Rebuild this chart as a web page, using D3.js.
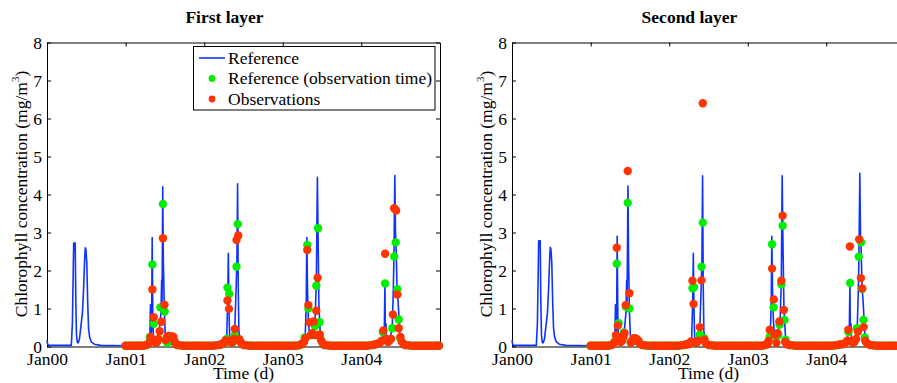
<!DOCTYPE html>
<html>
<head>
<meta charset="utf-8">
<script src="https://cdn.jsdelivr.net/npm/d3@7"></script>
<style>
  body { margin: 0; background: #fff; }
</style>
</head>
<body>
<svg id="chart" width="897" height="383"></svg>
<script>
// days are counted from Jan00, values in mg/m3
const panelTitles = ["First layer", "Second layer"];
const yearLabels = ["Jan00", "Jan01", "Jan02", "Jan03", "Jan04"];
const yTicks = [0, 1, 2, 3, 4, 5, 6, 7, 8];
const legendLabels = ["Reference", "Reference (observation time)", "Observations"];

// reference run, first layer
const refLine1 = [
  [0, 0.17], [3, 0.06], [8, 0.03], [113, 0.03], [118, 0.6], [122, 2.0], [124, 2.72], [131, 2.72], [134, 1.2], [137, 0.3], [141, 0.1],
  [145, 0.1], [151, 0.2], [157, 0.5], [160, 0.65], [165, 0.9], [170, 1.5], [175, 2.3], [178, 2.6], [181, 2.55], [185, 2.2], [189, 1.2],
  [193, 0.5], [198, 0.25], [206, 0.12], [220, 0.06], [250, 0.03], [365, 0.02],
  [470, 0.03], [478, 0.1], [481, 1.1], [483, 0.3], [486, 0.4], [489, 2.87], [492, 0.8], [495, 0.25], [505, 0.15], [520, 0.3],
  [530, 0.9], [533, 1.75], [535, 1.2], [538, 4.2], [541, 2.2], [546, 0.9], [550, 0.3], [560, 0.1], [580, 0.05], [600, 0.02],
  [825, 0.02], [835, 0.15], [840, 1.2], [843, 2.45], [846, 1.0], [849, 0.25], [860, 0.1], [872, 0.3], [879, 1.5], [883, 2.3],
  [886, 4.28], [889, 1.6], [892, 0.4], [900, 0.1], [920, 0.02],
  [1190, 0.02], [1200, 0.2], [1205, 1.1], [1208, 2.87], [1211, 1.5], [1215, 0.7], [1220, 0.3], [1238, 0.4], [1247, 0.8], [1252, 1.7],
  [1257, 4.45], [1260, 3.0], [1264, 1.1], [1268, 0.6], [1272, 0.2], [1285, 0.05], [1300, 0.02],
  [1550, 0.02], [1562, 0.3], [1568, 0.4], [1571, 1.66], [1573, 0.4], [1576, 0.6], [1578, 0.2], [1595, 0.2], [1605, 0.5], [1610, 1.5],
  [1613, 2.4], [1617, 4.5], [1620, 3.0], [1623, 2.6], [1627, 1.6], [1632, 1.2], [1637, 0.7], [1642, 0.2], [1655, 0.05], [1670, 0.02], [1826, 0.02]
];

// reference run, second layer
const refLine2 = [
  [0, 0.17], [3, 0.06], [8, 0.03], [113, 0.03], [118, 0.6], [122, 2.0], [124, 2.78], [131, 2.78], [134, 1.2], [137, 0.3], [141, 0.1],
  [145, 0.1], [151, 0.2], [157, 0.5], [160, 0.65], [165, 0.9], [170, 1.5], [175, 2.3], [178, 2.61], [181, 2.56], [185, 2.2], [189, 1.2],
  [193, 0.5], [198, 0.25], [206, 0.12], [220, 0.06], [250, 0.03], [365, 0.02],
  [470, 0.03], [478, 0.1], [481, 1.1], [483, 0.3], [486, 0.4], [489, 2.9], [492, 0.8], [495, 0.25], [505, 0.15], [520, 0.3],
  [530, 0.9], [533, 1.75], [535, 1.2], [539, 4.22], [542, 2.2], [546, 0.9], [550, 0.3], [560, 0.1], [580, 0.05], [600, 0.02],
  [825, 0.02], [835, 0.15], [840, 1.2], [843, 2.45], [846, 1.0], [849, 0.25], [860, 0.1], [872, 0.3], [879, 1.5], [883, 2.3],
  [886, 4.49], [889, 1.6], [892, 0.4], [900, 0.1], [920, 0.02],
  [1190, 0.02], [1200, 0.2], [1205, 1.1], [1208, 2.9], [1211, 1.5], [1215, 0.7], [1220, 0.3], [1238, 0.4], [1247, 0.8], [1252, 1.7],
  [1256, 4.49], [1259, 3.0], [1264, 1.1], [1268, 0.6], [1272, 0.2], [1285, 0.05], [1300, 0.02],
  [1550, 0.02], [1562, 0.3], [1568, 0.4], [1571, 1.67], [1573, 0.4], [1576, 0.6], [1578, 0.2], [1595, 0.2], [1605, 0.5], [1610, 1.5],
  [1613, 2.4], [1617, 4.56], [1620, 3.0], [1623, 2.6], [1627, 1.6], [1632, 1.2], [1637, 0.7], [1642, 0.2], [1655, 0.05], [1670, 0.02], [1826, 0.02]
];

// quiet periods, observations and reference nearly equal (both layers)
const lowBand = [
  [365, 0.02], [378, 0.02], [391, 0.02], [404, 0.02], [417, 0.02], [430, 0.02], [443, 0.02], [456, 0.03], [467, 0.05],
  [605, 0.04], [620, 0.03], [635, 0.02], [650, 0.02], [665, 0.02], [680, 0.02], [695, 0.02], [710, 0.02], [725, 0.02],
  [740, 0.02], [755, 0.02], [770, 0.02], [785, 0.03], [800, 0.04], [812, 0.06],
  [915, 0.04], [930, 0.03], [945, 0.02], [960, 0.02], [975, 0.02], [990, 0.02], [1005, 0.02], [1020, 0.02], [1035, 0.02],
  [1050, 0.02], [1065, 0.02], [1080, 0.02], [1095, 0.02], [1110, 0.02], [1125, 0.02], [1140, 0.02], [1155, 0.02], [1170, 0.03], [1182, 0.06],
  [1290, 0.04], [1305, 0.03], [1320, 0.02], [1335, 0.02], [1350, 0.02], [1365, 0.02], [1380, 0.02], [1395, 0.02], [1410, 0.02],
  [1425, 0.02], [1440, 0.02], [1455, 0.02], [1470, 0.02], [1485, 0.02], [1500, 0.03], [1515, 0.04], [1528, 0.06],
  [1665, 0.04], [1680, 0.03], [1695, 0.02], [1710, 0.02], [1725, 0.02], [1740, 0.02], [1755, 0.02], [1770, 0.02], [1785, 0.02],
  [1800, 0.02], [1812, 0.02], [1822, 0.02]
];

// reference at observation time / observations, first layer
const green1 = [
  [478, 0.25], [490, 2.16], [496, 0.6], [527, 1.03], [539, 3.75], [547, 0.92], [552, 0.15], [560, 0.1],
  [835, 0.2], [839, 1.55], [847, 1.38], [852, 0.12], [860, 0.1], [873, 0.3], [881, 2.1], [887, 3.22], [893, 0.15],
  [1198, 0.24], [1210, 2.67], [1215, 1.0], [1230, 0.3], [1246, 0.53], [1252, 1.6], [1260, 3.11], [1267, 0.64], [1272, 0.2],
  [1561, 0.38], [1572, 1.66], [1605, 0.48], [1614, 2.37], [1621, 2.74], [1629, 1.51], [1635, 0.71], [1643, 0.2]
];
const red1 = [
  [472, 0.08], [478, 0.12], [482, 0.25], [490, 1.5], [496, 0.77], [500, 0.15], [506, 0.1], [512, 0.12], [518, 0.2], [524, 0.4],
  [532, 0.65], [539, 2.85], [546, 1.1], [552, 0.17], [558, 0.25], [564, 0.28], [572, 0.27], [580, 0.26], [587, 0.26], [592, 0.15], [598, 0.08],
  [818, 0.08], [825, 0.1], [830, 0.16], [839, 1.21], [846, 0.99], [852, 0.15], [858, 0.1], [864, 0.12], [868, 0.2], [873, 0.46],
  [881, 2.8], [889, 2.92], [894, 0.19], [900, 0.12], [908, 0.06],
  [1188, 0.08], [1195, 0.12], [1202, 0.22], [1210, 2.54], [1215, 1.09], [1221, 0.64], [1226, 0.3], [1234, 0.35], [1240, 0.66],
  [1246, 0.3], [1252, 0.94], [1258, 1.81], [1263, 0.3], [1268, 0.32], [1275, 0.15], [1282, 0.08],
  [1540, 0.08], [1548, 0.1], [1556, 0.15], [1564, 0.42], [1572, 2.44], [1578, 0.2], [1585, 0.12], [1592, 0.15], [1600, 0.2],
  [1608, 0.84], [1614, 3.64], [1623, 3.58], [1629, 1.37], [1635, 0.48], [1643, 0.25], [1650, 0.12], [1658, 0.06]
];

// reference at observation time / observations, second layer
const green2 = [
  [480, 0.15], [487, 2.18], [489, 0.25], [496, 0.61], [520, 0.37], [529, 1.05], [538, 3.78], [546, 1.0], [552, 0.12],
  [833, 0.12], [839, 1.53], [846, 1.56], [852, 0.1], [873, 0.31], [881, 2.1], [887, 3.26], [893, 0.22],
  [1198, 0.26], [1209, 2.69], [1216, 1.03], [1222, 0.3], [1238, 0.3], [1244, 0.57], [1252, 1.64], [1258, 3.18], [1267, 0.7], [1272, 0.18],
  [1564, 0.38], [1572, 1.67], [1603, 0.48], [1612, 2.36], [1623, 2.74], [1628, 1.51], [1634, 0.7], [1640, 0.24]
];
const red2 = [
  [472, 0.08], [478, 0.12], [483, 0.3], [487, 2.6], [492, 0.55], [498, 0.2], [505, 0.12], [512, 0.15], [518, 0.25], [523, 0.35],
  [529, 1.09], [538, 4.62], [546, 1.4], [552, 0.1], [558, 0.15], [565, 0.22], [572, 0.22], [580, 0.2], [588, 0.15], [595, 0.07],
  [818, 0.06], [825, 0.08], [832, 0.13], [839, 1.73], [844, 1.12], [850, 0.12], [858, 0.1], [866, 0.15], [873, 0.51],
  [881, 1.74], [887, 6.4], [895, 0.18], [902, 0.08],
  [1188, 0.06], [1193, 0.15], [1198, 0.44], [1209, 2.05], [1217, 1.24], [1221, 0.32], [1229, 0.1], [1234, 0.35], [1243, 0.66],
  [1252, 1.73], [1258, 3.44], [1264, 0.96], [1270, 0.12], [1278, 0.06],
  [1540, 0.06], [1550, 0.1], [1558, 0.15], [1564, 0.44], [1571, 2.63], [1578, 0.15], [1585, 0.09], [1592, 0.12], [1600, 0.2],
  [1608, 0.39], [1614, 2.82], [1622, 1.8], [1628, 1.53], [1635, 0.51], [1642, 0.15], [1650, 0.08]
];

const BLUE = "#0f33ff", GREEN = "#00ee00", RED = "#ff3300";
const SERIF = '"Liberation Serif", "Times New Roman", serif';
const FS = 17.5;
const start = new Date(2000, 0, 1), end = new Date(2005, 0, 1);
const toDate = d => d3.timeDay.offset(start, d);

const svg = d3.select("#chart").style("font-family", SERIF);

const panels = [
  { title: panelTitles[0], left: 47, line: refLine1, green: green1, red: red1, legend: true },
  { title: panelTitles[1], left: 512, line: refLine2, green: green2, red: red2, legend: false }
];

panels.forEach(p => {
  const x = d3.scaleTime().domain([start, end]).range([p.left, p.left + 393]);
  const y = d3.scaleLinear().domain([0, 8]).range([346.5, 42.5]);
  const g = svg.append("g");
  const yearTicks = d3.timeYear.range(start, end);

  // box with inward ticks
  const bottom = g.append("g").attr("transform", "translate(0,346.5)")
    .call(d3.axisBottom(x).tickValues(yearTicks).tickFormat((d, i) => yearLabels[i])
      .tickSizeInner(-4).tickSizeOuter(0).tickPadding(6));
  const top = g.append("g").attr("transform", "translate(0,42.5)")
    .call(d3.axisTop(x).tickValues(yearTicks).tickFormat("").tickSizeInner(-4).tickSizeOuter(0));
  const leftAx = g.append("g").attr("transform", `translate(${p.left},0)`)
    .call(d3.axisLeft(y).tickValues(yTicks).tickFormat(d3.format("d")).tickSizeInner(-4).tickSizeOuter(0).tickPadding(5));
  const rightAx = g.append("g").attr("transform", `translate(${p.left + 393},0)`)
    .call(d3.axisRight(y).tickValues(yTicks).tickFormat("").tickSizeInner(-4).tickSizeOuter(0));
  [bottom, top, leftAx, rightAx].forEach(a => {
    a.style("font-family", SERIF).attr("font-size", FS);
    a.selectAll("path, line").attr("stroke", "#000").attr("stroke-width", 1);
    a.selectAll("text").attr("fill", "#000");
  });

  // reference line
  g.append("path").datum(p.line)
    .attr("fill", "none").attr("stroke", BLUE).attr("stroke-width", 1.6).attr("stroke-linejoin", "round")
    .attr("d", d3.line().x(d => x(toDate(d[0]))).y(d => y(d[1])));

  // dots: green first, red on top
  const dots = (data, color) => g.append("g").selectAll("circle").data(data).join("circle")
    .attr("cx", d => x(toDate(d[0]))).attr("cy", d => y(d[1])).attr("r", 4.2).attr("fill", color);
  dots(lowBand.concat(p.green), GREEN);
  dots(lowBand.concat(p.red), RED);

  // labels
  svg.append("text").attr("x", p.left + 177.5).attr("y", 23).attr("text-anchor", "middle")
    .attr("font-size", FS).attr("font-weight", "bold").text(p.title);
  svg.append("text").attr("x", p.left + 196.5).attr("y", 379).attr("text-anchor", "middle")
    .attr("font-size", FS).text("Time (d)");
  const yl = svg.append("text").attr("transform", `translate(${p.left - 20},194) rotate(-90)`)
    .attr("text-anchor", "middle").attr("font-size", FS);
  yl.append("tspan").text("Chlorophyll concentration (mg/m");
  yl.append("tspan").attr("font-size", 11).attr("dy", -8).text("3");
  yl.append("tspan").attr("dy", 8).text(")");

  if (p.legend) {
    const lg = svg.append("g");
    lg.append("rect").attr("x", 193.5).attr("y", 46.5).attr("width", 241.5).attr("height", 63.5)
      .attr("fill", "#fff").attr("stroke", "#000").attr("stroke-width", 1);
    lg.append("line").attr("x1", 199).attr("x2", 225).attr("y1", 58).attr("y2", 58)
      .attr("stroke", BLUE).attr("stroke-width", 1.6);
    lg.append("circle").attr("cx", 212).attr("cy", 78.5).attr("r", 3.4).attr("fill", GREEN);
    lg.append("circle").attr("cx", 212).attr("cy", 99).attr("r", 3.4).attr("fill", RED);
    legendLabels.forEach((t, i) => {
      lg.append("text").attr("x", 228).attr("y", 63.5 + i * 20.5).attr("font-size", FS).text(t);
    });
  }
});
</script>
</body>
</html>
